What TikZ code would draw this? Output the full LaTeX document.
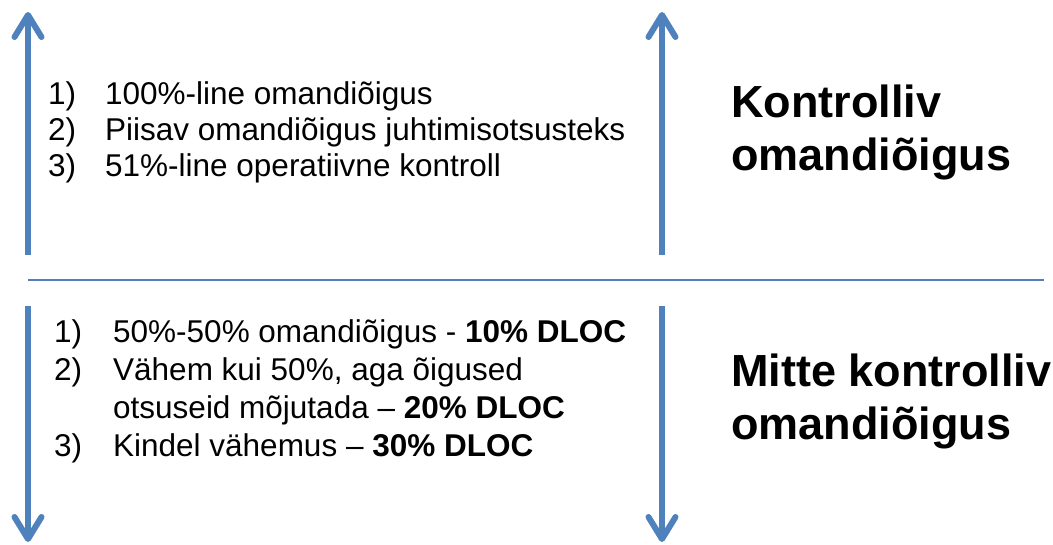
\documentclass[tikz,border=0pt]{standalone}
\usepackage{fontspec}
\setmainfont{Liberation Sans}
\usetikzlibrary{arrows.meta}
\definecolor{accent}{RGB}{79,129,189}
\tikzset{
  axis arrow/.style={draw=accent, line width=6pt,
    -{Straight Barb[round, length=22pt, width=27pt]}},
  divider/.style={draw=accent, line width=2.5pt},
  item/.style={anchor=base west, inner sep=0pt, font=\fontsize{31.5}{38}\selectfont},
  heading/.style={anchor=base west, inner sep=0pt, font=\fontsize{45}{54}\selectfont\bfseries}
}
\begin{document}
\begin{tikzpicture}[x=1pt,y=-1pt]
\useasboundingbox (0,0) rectangle (1053,544);

% arrow end points
\coordinate (lu0) at (28,255);
\coordinate (lu1) at (28,12);
\coordinate (ld0) at (28,306);
\coordinate (ld1) at (28,542);
\coordinate (ru0) at (662,255);
\coordinate (ru1) at (662,12);
\coordinate (rd0) at (662,306);
\coordinate (rd1) at (662,542);
\coordinate (hl) at (28,280);
\coordinate (hr) at (1044,280);

\draw[axis arrow] (lu0) -- (lu1);
\draw[axis arrow] (ld0) -- (ld1);
\draw[axis arrow] (ru0) -- (ru1);
\draw[axis arrow] (rd0) -- (rd1);
\draw[divider] (hl) -- (hr);

% upper list
\node[item] (n1) at (48,104) {1)};
\node[item] (t1) at (105,104) {100\%-line omandiõigus};
\node[item] (n2) at (48,140) {2)};
\node[item] (t2) at (105,140) {Piisav omandiõigus juhtimisotsusteks};
\node[item] (n3) at (48,176) {3)};
\node[item] (t3) at (105,176) {51\%-line operatiivne kontroll};

% lower list
\node[item] (m1) at (54,342) {1)};
\node[item] (s1) at (113,342) {50\%-50\% omandiõigus - \textbf{10\% DLOC}};
\node[item] (m2) at (54,380) {2)};
\node[item] (s2) at (113,380) {Vähem kui 50\%, aga õigused};
\node[item] (s2b) at (113,418) {otsuseid mõjutada – \textbf{20\% DLOC}};
\node[item] (m3) at (54,456) {3)};
\node[item] (s3) at (113,456) {Kindel vähemus – \textbf{30\% DLOC}};

% headings
\node[heading] (h1) at (731,117) {Kontrolliv};
\node[heading] (h2) at (731,170) {omandiõigus};
\node[heading] (h3) at (731,386) {Mitte kontrolliv};
\node[heading] (h4) at (731,439) {omandiõigus};
\end{tikzpicture}
\end{document}
